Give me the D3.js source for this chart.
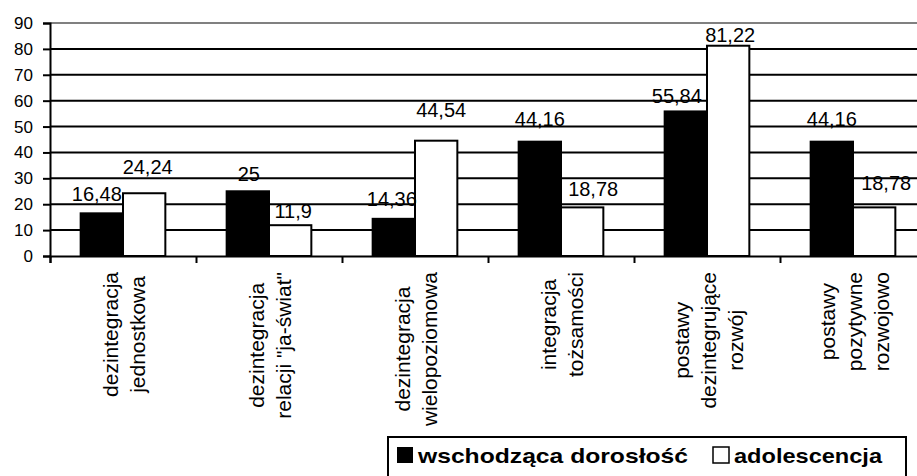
<!DOCTYPE html>
<html>
<head>
<meta charset="utf-8">
<title>Postawy - wschodząca dorosłość i adolescencja</title>
<script src="https://d3js.org/d3.v7.min.js"></script>
<style>
    body { margin: 0; background: white; }
    text { font-family: "Liberation Sans", Arial, sans-serif; fill: black; }
</style>
</head>
<body>
<div id="chart"></div>
<script>
    // data
    var categories = [
        ["dezintegracja", "jednostkowa"],
        ["dezintegracja", "relacji \"ja-świat\""],
        ["dezintegracja", "wielopoziomowa"],
        ["integracja", "tożsamości"],
        ["postawy", "dezintegrujące", "rozwój"],
        ["postawy", "pozytywne", "rozwojowo"]
    ];
    var seriesNames = ["wschodząca dorosłość", "adolescencja"];
    var adultValues = [16.48, 25, 14.36, 44.16, 55.84, 44.16];
    var adolValues = [24.24, 11.9, 44.54, 18.78, 81.22, 18.78];
    var yTicks = [0, 10, 20, 30, 40, 50, 60, 70, 80, 90];

    var width = 917, height = 476;
    var margin = {top: 23, right: -9, bottom: 220, left: 50};
    var plotW = width - margin.left - margin.right,
        plotH = height - margin.top - margin.bottom;

    var svg = d3.select("#chart").append("svg")
        .attr("width", width)
        .attr("height", height);

    var g = svg.append("g")
        .attr("transform", "translate(" + margin.left + "," + margin.top + ")");

    var keys = categories.map(function(d, i) { return "c" + i; });

    var x0 = d3.scaleBand()
        .domain(keys)
        .range([0, plotW])
        .paddingInner(0.42)
        .paddingOuter(0.21);

    var x1 = d3.scaleBand()
        .domain([0, 1])
        .range([0, x0.bandwidth()]);

    var y = d3.scaleLinear()
        .domain([0, 90])
        .range([plotH, 0]);

    // horizontal grid lines
    g.selectAll(".grid")
        .data(yTicks.slice(1))
        .enter().append("line")
        .attr("x1", 0)
        .attr("x2", plotW)
        .attr("y1", function(d) { return y(d); })
        .attr("y2", function(d) { return y(d); })
        .attr("stroke", function(d) { return d === 90 ? "#808080" : "black"; })
        .attr("stroke-width", 2);

    // y axis
    var yAxis = g.append("g")
        .call(d3.axisLeft(y).tickValues(yTicks).tickSize(7).tickPadding(10));
    yAxis.select(".domain").attr("stroke-width", 2);
    yAxis.selectAll(".tick line").attr("stroke-width", 2);
    yAxis.selectAll("text")
        .style("font-size", "17px")
        .style("font-family", "'Liberation Sans', Arial, sans-serif")
        .attr("fill", "black");

    // x axis with ticks between categories
    var bounds = keys.map(function(k) { return x0(k) - x0.step() * 0.21; });
    bounds.push(plotW);
    var xEdge = d3.scaleLinear().domain([0, plotW]).range([0, plotW]);
    var xAxis = g.append("g")
        .attr("transform", "translate(0," + plotH + ")")
        .call(d3.axisBottom(xEdge).tickValues(bounds).tickSize(7).tickFormat(""));
    xAxis.select(".domain").attr("stroke-width", 2);
    xAxis.selectAll(".tick line").attr("stroke-width", 2);

    // bars
    var rows = categories.map(function(c, i) {
        return {key: keys[i], vals: [adultValues[i], adolValues[i]]};
    });
    var fills = ["black", "white"];

    var groups = g.selectAll(".grp")
        .data(rows)
        .enter().append("g")
        .attr("transform", function(d) { return "translate(" + x0(d.key) + ",0)"; });

    groups.selectAll("rect")
        .data(function(d) { return d.vals; })
        .enter().append("rect")
        .attr("x", function(d, j) { return x1(j); })
        .attr("y", function(d) { return y(d); })
        .attr("width", x1.bandwidth())
        .attr("height", function(d) { return plotH - y(d); })
        .attr("fill", function(d, j) { return fills[j]; })
        .attr("stroke", "black")
        .attr("stroke-width", 2);

    // value labels (small nudges like in the original to avoid overlaps)
    var labelShift = [
        [[-5, 12.7], [3.5, 19.5]],
        [[1, 10], [3, 7]],
        [[-2, 12.7], [5, 24]],
        [[0, 16], [11, 11]],
        [[-9, 8], [2, 3.7]],
        [[0, 16], [12, 17]]
    ];
    groups.each(function(row, i) {
        d3.select(this).selectAll(".lbl")
            .data(row.vals)
            .enter().append("text")
            .attr("x", function(d, j) { return x1(j) + x1.bandwidth() / 2 + labelShift[i][j][0]; })
            .attr("y", function(d, j) { return y(d) - labelShift[i][j][1]; })
            .attr("text-anchor", "middle")
            .style("font-size", "20px")
            .text(function(d) { return String(d).replace(".", ","); });
    });

    // rotated category labels
    var linePitch = 27;
    categories.forEach(function(lines, i) {
        var cx = x0(keys[i]) + x0.bandwidth() / 2;
        var lg = g.append("g")
            .attr("transform", "translate(" + cx + "," + plotH + ") rotate(-90)");
        var texts = lines.map(function(t, k) {
            return lg.append("text")
                .attr("y", (k - (lines.length - 1) / 2) * linePitch + 8.5)
                .attr("text-anchor", "middle")
                .style("font-size", "21px")
                .text(t);
        });
        var maxLen = d3.max(texts, function(t) { return t.node().getComputedTextLength(); });
        texts.forEach(function(t) { t.attr("x", -(16 + maxLen / 2)); });
    });

    // legend
    var leg = svg.append("g").attr("transform", "translate(388,437)");
    leg.append("rect")
        .attr("width", 518)
        .attr("height", 60)
        .attr("fill", "white")
        .attr("stroke", "black")
        .attr("stroke-width", 2);
    var legX = [9, 325];
    var legLen = [270, 148];
    seriesNames.forEach(function(name, j) {
        leg.append("rect")
            .attr("x", legX[j])
            .attr("y", 10)
            .attr("width", 16)
            .attr("height", 16)
            .attr("fill", fills[j])
            .attr("stroke", "black")
            .attr("stroke-width", j === 0 ? 0 : 1.5);
        leg.append("text")
            .attr("x", legX[j] + 21)
            .attr("y", 26)
            .attr("textLength", legLen[j])
            .attr("lengthAdjust", "spacingAndGlyphs")
            .style("font-size", "21px")
            .style("font-weight", "bold")
            .text(name);
    });
</script>
</body>
</html>
